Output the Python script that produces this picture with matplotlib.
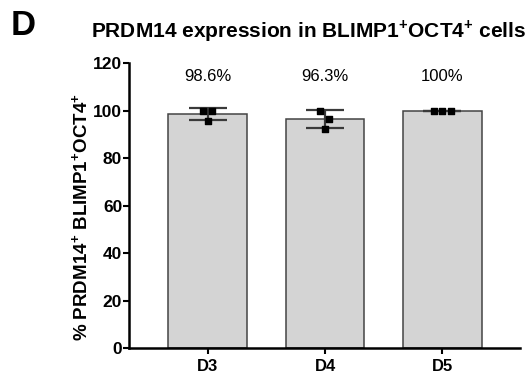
import numpy as np
import matplotlib.pyplot as plt

plt.rcParams['font.family'] = ['Liberation Sans', 'DejaVu Sans']
plt.rcParams['mathtext.fontset'] = 'custom'
plt.rcParams['mathtext.rm'] = 'Liberation Sans'
plt.rcParams['mathtext.bf'] = 'Liberation Sans:bold'

# data
days = ['D3', 'D4', 'D5']
d3_pts = [100, 100, 95.8]
d4_pts = [100, 96.5, 92.4]
d5_pts = [100, 100, 100]
pct_labels = ['98.6%', '96.3%', '100%']
yticks = [0, 20, 40, 60, 80, 100, 120]

pts = [d3_pts, d4_pts, d5_pts]
means = [np.mean(p) for p in pts]
sds = [np.std(p, ddof=1) for p in pts]
x = np.arange(len(days))

fig = plt.figure(figsize=(5.29, 3.78), dpi=100)
ax = fig.add_axes([0.244, 0.079, 0.739, 0.754])

ax.bar(x, means, width=0.67, color='#d4d4d4', edgecolor='#444444', linewidth=1.1, zorder=1)
ax.errorbar(x, means, yerr=sds, fmt='none', ecolor='#3a3a3a', elinewidth=1.6,
            capsize=14, capthick=1.6, zorder=2)

# individual points, slightly spread
offs = {0: [-0.04, 0.035, 0.0], 1: [-0.04, 0.03, 0.0], 2: [-0.07, 0.0, 0.07]}
for i, p in enumerate(pts):
    ax.scatter(x[i] + np.array(offs[i]), p, marker='s', s=16, color='black', zorder=3)

for i, lab in enumerate(pct_labels):
    ax.text(x[i], 114.5, lab, ha='center', va='center', fontsize=12)

ax.set_xlim(-0.668, 2.66)
ax.set_ylim(0, 120)
ax.set_yticks(yticks)
ax.set_xticks(x)
ax.set_xticklabels(days, fontsize=12, fontweight='bold')
for t in ax.get_yticklabels():
    t.set_fontweight('bold')
    t.set_fontsize(12.5)
ax.tick_params(axis='y', length=4, width=1.5, pad=1)
ax.tick_params(axis='x', length=4, width=1.5, pad=4)
ax.spines['right'].set_visible(False)
ax.spines['top'].set_visible(False)
ax.spines['left'].set_linewidth(1.8)
ax.spines['bottom'].set_linewidth(1.8)

ax.set_ylabel(r'% PRDM14$^{\mathbf{+}}$ BLIMP1$^{\mathbf{+}}$OCT4$^{\mathbf{+}}$',
              fontsize=13.5, fontweight='bold')
ax.yaxis.set_label_coords(-0.095, 0.46)

fig.text(0.02, 0.933, 'D', fontsize=25, fontweight='bold', va='center')
fig.text(0.172, 0.918, r'PRDM14 expression in BLIMP1$^{\mathbf{+}}$OCT4$^{\mathbf{+}}$ cells',
         fontsize=15, fontweight='bold', va='center')

plt.savefig('out.png', dpi=100)
